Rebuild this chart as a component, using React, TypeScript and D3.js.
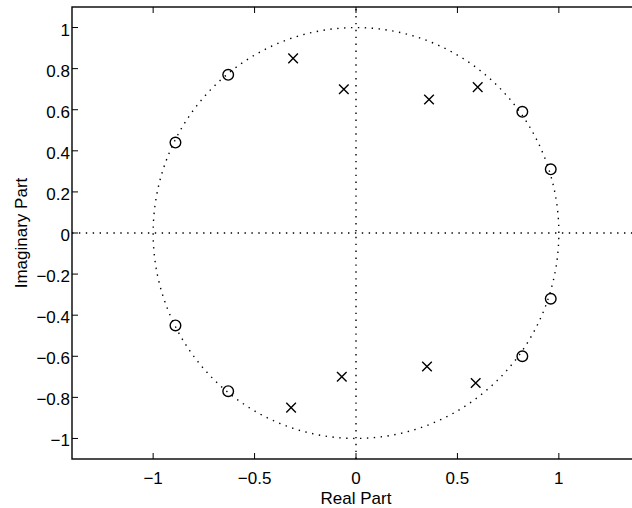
import React, { useEffect, useRef } from 'react'
import * as d3 from 'd3'

// zeros (o) and poles (x)
const zeroRe = [-0.89, -0.89, -0.63, -0.63, 0.82, 0.82, 0.96, 0.96]
const zeroIm = [0.44, -0.45, 0.77, -0.77, 0.59, -0.6, 0.31, -0.32]
const poleRe = [-0.31, -0.32, -0.06, -0.07, 0.36, 0.35, 0.6, 0.59]
const poleIm = [0.85, -0.85, 0.7, -0.7, 0.65, -0.65, 0.71, -0.73]
const xTicks = [-1, -0.5, 0, 0.5, 1]
const yTicks = [-1, -0.8, -0.6, -0.4, -0.2, 0, 0.2, 0.4, 0.6, 0.8, 1]

const W = 632
const H = 508

const fmt = (v: number) => (v < 0 ? '\u2212' + String(-v) : String(v))

export default function App() {
  const ref = useRef<SVGSVGElement>(null)

  useEffect(() => {
    const svg = d3.select(ref.current)
    svg.selectAll('*').remove()

    const x = d3.scaleLinear().domain([-1.4, 1.4]).range([72, 640])
    const y = d3.scaleLinear().domain([-1.1, 1.1]).range([459, 7])
    const font = 'Liberation Sans, Arial, sans-serif'
    const fs = 17

    const g = svg.append('g')

    // unit circle
    const circ = d3.range(0, 361, 2).map(a => [Math.cos(a * Math.PI / 180), Math.sin(a * Math.PI / 180)])
    g.append('path')
      .attr('d', d3.line().x(d => x(d[0])).y(d => y(d[1]))(circ as [number, number][]))
      .attr('fill', 'none')
      .attr('stroke', '#000')
      .attr('stroke-width', 1.4)
      .attr('stroke-dasharray', '1.4 5.5')

    // axes lines through origin
    g.append('line')
      .attr('x1', x(-1.4)).attr('x2', x(1.4)).attr('y1', y(0)).attr('y2', y(0))
      .attr('stroke', '#000').attr('stroke-width', 1.4).attr('stroke-dasharray', '1.4 5.5')
    g.append('line')
      .attr('x1', x(0)).attr('x2', x(0)).attr('y1', y(-1.1)).attr('y2', y(1.1))
      .attr('stroke', '#000').attr('stroke-width', 1.4).attr('stroke-dasharray', '1.4 5.5')

    // frame
    g.append('rect')
      .attr('x', x(-1.4)).attr('y', y(1.1))
      .attr('width', x(1.4) - x(-1.4)).attr('height', y(-1.1) - y(1.1))
      .attr('fill', 'none').attr('stroke', '#000').attr('stroke-width', 1.4)

    // ticks
    xTicks.forEach(t => {
      g.append('line').attr('x1', x(t)).attr('x2', x(t)).attr('y1', y(-1.1)).attr('y2', y(-1.1) - 6)
        .attr('stroke', '#000')
      g.append('line').attr('x1', x(t)).attr('x2', x(t)).attr('y1', y(1.1)).attr('y2', y(1.1) + 6)
        .attr('stroke', '#000')
      g.append('text').attr('x', x(t)).attr('y', 484)
        .attr('text-anchor', 'middle').attr('font-family', font).attr('font-size', fs)
        .text(fmt(t))
    })
    yTicks.forEach(t => {
      g.append('line').attr('x1', x(-1.4)).attr('x2', x(-1.4) + 6).attr('y1', y(t)).attr('y2', y(t))
        .attr('stroke', '#000')
      g.append('line').attr('x1', x(1.4)).attr('x2', x(1.4) - 6).attr('y1', y(t)).attr('y2', y(t))
        .attr('stroke', '#000')
      g.append('text').attr('x', x(-1.4) - 2).attr('y', y(t) + 8)
        .attr('text-anchor', 'end').attr('font-family', font).attr('font-size', fs)
        .text(fmt(t))
    })

    // labels
    g.append('text').attr('x', x(0)).attr('y', 504)
      .attr('text-anchor', 'middle').attr('font-family', font).attr('font-size', fs)
      .text('Real Part')
    g.append('text')
      .attr('transform', `translate(27,${y(0)}) rotate(-90)`)
      .attr('text-anchor', 'middle').attr('font-family', font).attr('font-size', fs)
      .text('Imaginary Part')

    // zeros
    g.selectAll('.zero').data(zeroRe).enter().append('circle')
      .attr('class', 'zero')
      .attr('cx', d => x(d)).attr('cy', (d, i) => y(zeroIm[i]))
      .attr('r', 5.3).attr('fill', 'none').attr('stroke', '#000').attr('stroke-width', 1.4)

    // poles
    const s = 4.8
    g.selectAll('.pole').data(poleRe).enter().append('path')
      .attr('class', 'pole')
      .attr('d', (d, i) => {
        const cx = x(d), cy = y(poleIm[i])
        return `M${cx - s},${cy - s}L${cx + s},${cy + s}M${cx - s},${cy + s}L${cx + s},${cy - s}`
      })
      .attr('stroke', '#000').attr('stroke-width', 1.4).attr('fill', 'none')
  }, [])

  return (
    <svg ref={ref} width={W} height={H}
      style={{ position: 'absolute', left: 0, top: 0, background: '#fff' }} />
  )
}
